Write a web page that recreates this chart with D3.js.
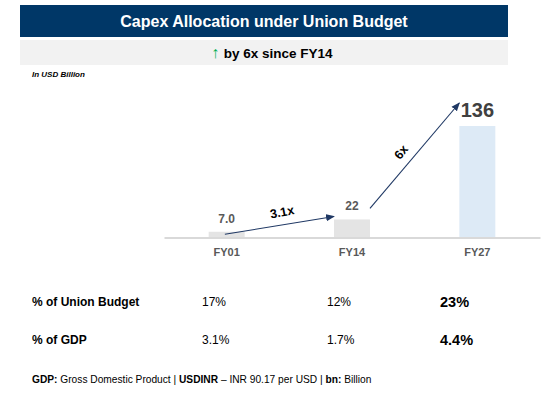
<!DOCTYPE html>
<html>
<head>
<meta charset="utf-8">
<script src="https://cdn.jsdelivr.net/npm/d3@7"></script>
<style>
  html, body { margin: 0; padding: 0; background: #fff; }
  svg { display: block; font-family: "Liberation Sans", Arial, sans-serif; }
</style>
</head>
<body>
<svg id="chart" width="546" height="397"></svg>
<script>
const categories = ["FY01", "FY14", "FY27"];
const capex = [7.0, 22, 136];
const capexLabels = ["7.0", "22", "136"];
const budgetShare = ["17%", "12%", "23%"];
const gdpShare = ["3.1%", "1.7%", "4.4%"];
const growth = [{ from: 0, to: 1, label: "3.1x" }, { from: 1, to: 2, label: "6x" }];

const width = 546, height = 397;
const margin = { left: 164, right: 6, baseline: 237.5 };
const plotTop = 126;

const svg = d3.select("#chart");

// Header
svg.append("rect").attr("x", 20).attr("y", 5).attr("width", 488).attr("height", 32).attr("fill", "#003767");
svg.append("text").attr("x", 264).attr("y", 27).attr("text-anchor", "middle")
    .attr("fill", "#fff").attr("font-size", 16).attr("font-weight", "bold")
    .text("Capex Allocation under Union Budget");

svg.append("rect").attr("x", 20).attr("y", 40).attr("width", 488).attr("height", 25).attr("fill", "#f2f2f2");
const sub = svg.append("text").attr("x", 272).attr("y", 57.5).attr("text-anchor", "middle")
    .attr("font-size", 13.5).attr("font-weight", "bold").attr("fill", "#000");
sub.append("tspan").attr("fill", "#00b050").attr("font-size", 16).text("\u2191 ");
sub.append("tspan").text("by 6x since FY14");

svg.append("text").attr("x", 32).attr("y", 77).attr("font-size", 8)
    .attr("font-weight", "bold").attr("font-style", "italic").text("In USD Billion");

// Scales
const x = d3.scaleBand()
    .domain(categories)
    .range([margin.left, width - margin.right])
    .paddingInner(0.713)
    .paddingOuter(0.3565);

const y = d3.scaleLinear()
    .domain([0, d3.max(capex)])
    .range([margin.baseline, plotTop]);

// Bars
svg.append("g")
    .selectAll("rect")
    .data(capex)
    .join("rect")
    .attr("x", (d, i) => x(categories[i]))
    .attr("y", d => y(d))
    .attr("width", x.bandwidth())
    .attr("height", d => y(0) - y(d))
    .attr("fill", (d, i) => i === 2 ? "#ddeaf6" : "#e4e4e4");

// Axis
const xAxis = svg.append("g")
    .attr("transform", `translate(0,${margin.baseline})`)
    .call(d3.axisBottom(x).tickSize(0).tickPadding(11));
xAxis.select(".domain").attr("stroke", "#d9d9d9").attr("stroke-width", 2);
xAxis.selectAll(".tick text")
    .attr("font-size", 11).attr("font-weight", "bold").attr("fill", "#595959")
    .attr("font-family", "Liberation Sans, Arial, sans-serif");

// Value labels
svg.append("g")
    .selectAll("text")
    .data(capex)
    .join("text")
    .attr("x", (d, i) => x(categories[i]) + x.bandwidth() / 2)
    .attr("y", d => y(d) - 9)
    .attr("text-anchor", "middle")
    .attr("font-weight", "bold")
    .attr("font-size", (d, i) => i === 2 ? 20 : 12)
    .attr("fill", (d, i) => i === 2 ? "#404040" : "#595959")
    .text((d, i) => capexLabels[i]);

// Growth arrows
svg.append("defs").append("marker")
    .attr("id", "head").attr("viewBox", "0 0 10 10")
    .attr("refX", 9).attr("refY", 5)
    .attr("markerWidth", 8).attr("markerHeight", 8)
    .attr("orient", "auto")
    .append("path").attr("d", "M0,1 L10,5 L0,9 Z").attr("fill", "#1f3864");

const arrowPts = [
    { x1: x(categories[0]) + x.bandwidth() * 0.45, y1: y(capex[0]) + 2.5, x2: x(categories[1]), y2: y(capex[1]) - 3, lx: 282, ly: 212, rot: -11 },
    { x1: x(categories[1]) + x.bandwidth(), y1: y(capex[1]) - 11, x2: x(categories[2]), y2: y(capex[2]) - 23, lx: 401, ly: 152, rot: -50 }
];

growth.forEach((g, i) => {
    const a = arrowPts[i];
    svg.append("line")
        .attr("x1", a.x1).attr("y1", a.y1).attr("x2", a.x2).attr("y2", a.y2)
        .attr("stroke", "#1f3864").attr("stroke-width", 1.1)
        .attr("marker-end", "url(#head)");
    svg.append("text")
        .attr("transform", `translate(${a.lx},${a.ly}) rotate(${a.rot})`)
        .attr("text-anchor", "middle").attr("dy", "0.35em")
        .attr("font-size", 12.5).attr("font-weight", "bold").attr("fill", "#000")
        .text(g.label);
});

// Table
const col = d3.scaleOrdinal().domain(categories).range([202, 327, 440]);

const rows = [
    { label: "% of Union Budget", values: budgetShare, y: 302 },
    { label: "% of GDP", values: gdpShare, y: 340 }
];

rows.forEach(r => {
    svg.append("text").attr("x", 32).attr("y", r.y).attr("dy", "0.35em")
        .attr("font-size", 12).attr("font-weight", "bold").text(r.label);
    svg.append("g").selectAll("text")
        .data(r.values)
        .join("text")
        .attr("x", (d, i) => col(categories[i]))
        .attr("y", r.y)
        .attr("dy", "0.35em")
        .attr("font-size", (d, i) => i === 2 ? 14.5 : 12)
        .attr("font-weight", (d, i) => i === 2 ? "bold" : "normal")
        .attr("fill", "#000")
        .text(d => d);
});

// Footnote
const foot = svg.append("text").attr("x", 32).attr("y", 379).attr("dy", "0.35em")
    .attr("font-size", 10.2).attr("fill", "#000");
foot.append("tspan").attr("font-weight", "bold").text("GDP:");
foot.append("tspan").text(" Gross Domestic Product | ");
foot.append("tspan").attr("font-weight", "bold").text("USDINR");
foot.append("tspan").text(" \u2013 INR 90.17 per USD | ");
foot.append("tspan").attr("font-weight", "bold").text("bn:");
foot.append("tspan").text(" Billion");
</script>
</body>
</html>
